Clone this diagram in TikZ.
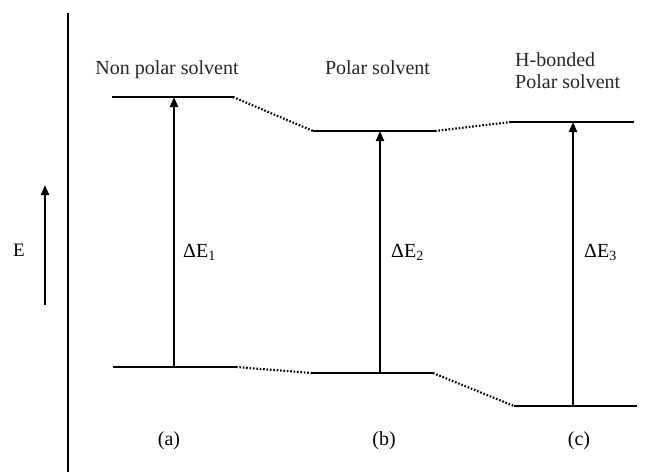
\documentclass[tikz,border=0pt]{standalone}
\usepackage{fontspec}
\setmainfont{Liberation Serif}
\usetikzlibrary{arrows.meta}
\begin{document}
\begin{tikzpicture}[x=1pt,y=-1pt,
  level/.style={line width=2.6pt},
  axisline/.style={line width=2.4pt},
  trans/.style={line width=2pt,-{Triangle[length=10pt,width=8pt]}},
  link/.style={line width=2.2pt,dash pattern=on 1.6pt off 1.8pt},
  lbl/.style={inner sep=0pt,font=\fontsize{20}{22}\selectfont},
  toplbl/.style={inner sep=0pt,font=\fontsize{20}{22}\selectfont,text=black!85},
]
\useasboundingbox (0,0) rectangle (647,472);
% axis
\coordinate (axT) at (68,13);
\coordinate (axB) at (68,472);
\draw[axisline] (axT) -- (axB);
\coordinate (eB) at (45,305);
\coordinate (eT) at (45,185);
\draw[trans] (eB) -- (eT);
\node[lbl,font=\fontsize{19}{22}\selectfont] (E) at (19,250) {E};
% levels (a)
\coordinate (aTL) at (112,97);  \coordinate (aTR) at (233,97);
\coordinate (aBL) at (113,367); \coordinate (aBR) at (236,367);
\coordinate (aTm) at (174,97);  \coordinate (aBm) at (174,367);
% levels (b)
\coordinate (bTL) at (313,131); \coordinate (bTR) at (435,131);
\coordinate (bBL) at (312,373); \coordinate (bBR) at (433,373);
\coordinate (bTm) at (380,131); \coordinate (bBm) at (380,373);
% levels (c)
\coordinate (cTL) at (511,122); \coordinate (cTR) at (634,122);
\coordinate (cBL) at (514,406); \coordinate (cBR) at (637,406);
\coordinate (cTm) at (573,122); \coordinate (cBm) at (573,406);
\draw[level] (aTL) -- (aTR);
\draw[level] (aBL) -- (aBR);
\draw[level] (bTL) -- (bTR);
\draw[level] (bBL) -- (bBR);
\draw[level] (cTL) -- (cTR);
\draw[level] (cBL) -- (cBR);
% dotted correlations
\draw[link] (aTR) -- (bTL);
\draw[link] (bTR) -- (cTL);
\draw[link] (aBR) -- (bBL);
\draw[link] (bBR) -- (cBL);
% transitions
\draw[trans] (aBm) -- (aTm);
\draw[trans] (bBm) -- (bTm);
\draw[trans] (cBm) -- (cTm);
% labels
\node[lbl,anchor=base west] (dE1) at (183,257) {ΔE\textsubscript{1}};
\node[lbl,anchor=base west] (dE2) at (391,257) {ΔE\textsubscript{2}};
\node[lbl,anchor=base west] (dE3) at (584,257) {ΔE\textsubscript{3}};
\node[lbl,anchor=base] (la) at (169,445) {(a)};
\node[lbl,anchor=base] (lb) at (384,445) {(b)};
\node[lbl,anchor=base] (lc) at (579,445) {(c)};
\node[toplbl,anchor=base] (t1) at (167,74) {Non polar solvent};
\node[toplbl,anchor=base] (t2) at (377.5,74) {Polar solvent};
\node[toplbl,anchor=base west] (t3a) at (515,66) {H-bonded};
\node[toplbl,anchor=base west] (t3b) at (515,88) {Polar solvent};
\end{tikzpicture}
\end{document}
